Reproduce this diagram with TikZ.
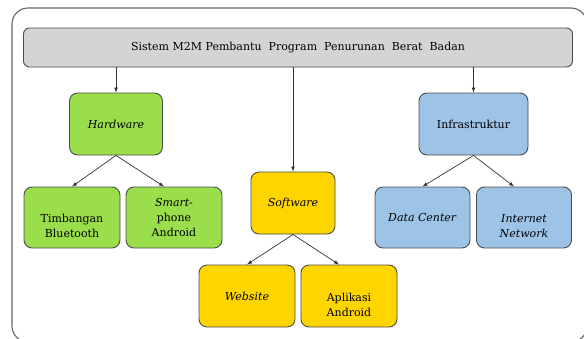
\documentclass[tikz,border=0pt]{standalone}
\usepackage{fontspec}
\setmainfont{DejaVu Serif}
\usepackage{xcolor}
\usepackage{tikz}

\definecolor{barGray}{RGB}{212,212,212}
\definecolor{hwGreen}{RGB}{155,222,76}
\definecolor{swGold}{RGB}{255,213,0}
\definecolor{infBlue}{RGB}{157,195,230}

\begin{document}
\begin{tikzpicture}[x=1pt, y=-1pt,
        box/.style = {draw=black!70, line width=0.9pt, rounded corners=8pt, align=center,
                      minimum width=96pt, minimum height=61pt, inner sep=1pt,
                      font=\fontsize{11}{15}\selectfont},
        arr/.style = {-latex, draw=black!80, line width=0.7pt}]
        \useasboundingbox (0,0) rectangle (584,338);
        % outer frame
        \draw[black!60, line width=1.1pt, rounded corners=16pt] (12,8) rectangle (587,342);
        \node[box, fill=barGray, minimum width=549pt, minimum height=39pt, rounded corners=6pt] (bar) at (298,47.5) {Sistem M2M Pembantu\ \ Program\ \ Penurunan\ \ Berat\ \ Badan};
        \node[box, fill=hwGreen, minimum width=93pt, minimum height=62pt] (hw) at (116,124) {\textit{Hardware}};
        \node[box, fill=hwGreen] (tb) at (72,217.5) {\strut\\Timbangan\\Bluetooth};
        \node[box, fill=hwGreen] (sp) at (174,217.5) {\textit{Smart-}\\phone\\Android};
        \node[box, fill=swGold, minimum width=84pt, minimum height=62pt] (sw) at (293,203) {\textit{Software}};
        \node[box, fill=swGold, minimum height=62pt] (web) at (247,296) {\textit{Website}};
        \node[box, fill=swGold, minimum height=62pt] (apk) at (349,296) {\strut\\Aplikasi\\Android};
        \node[box, fill=infBlue, minimum width=109pt, minimum height=62pt] (inf) at (473.5,124) {Infrastruktur};
        \node[box, fill=infBlue, minimum width=95pt] (dc) at (422.5,217.5) {\textit{Data Center}};
        \node[box, fill=infBlue, minimum width=95pt] (net) at (524,217.5) {\strut\\\textit{Internet}\\\textit{Network}};
        \draw[arr] (bar.south -| hw.north) -- (hw.north);
        \draw[arr] (bar.south -| sw.north) -- (sw.north);
        \draw[arr] (bar.south -| inf.north) -- (inf.north);
        \draw[arr] (hw.south) -- (tb.north);
        \draw[arr] (hw.south) -- ([xshift=-10pt]sp.north);
        \draw[arr] (sw.south) -- (web.north);
        \draw[arr] (sw.south) -- ([xshift=-10pt]apk.north);
        \draw[arr] (inf.south) -- (dc.north);
        \draw[arr] (inf.south) -- ([xshift=-10pt]net.north);
\end{tikzpicture}
\end{document}
